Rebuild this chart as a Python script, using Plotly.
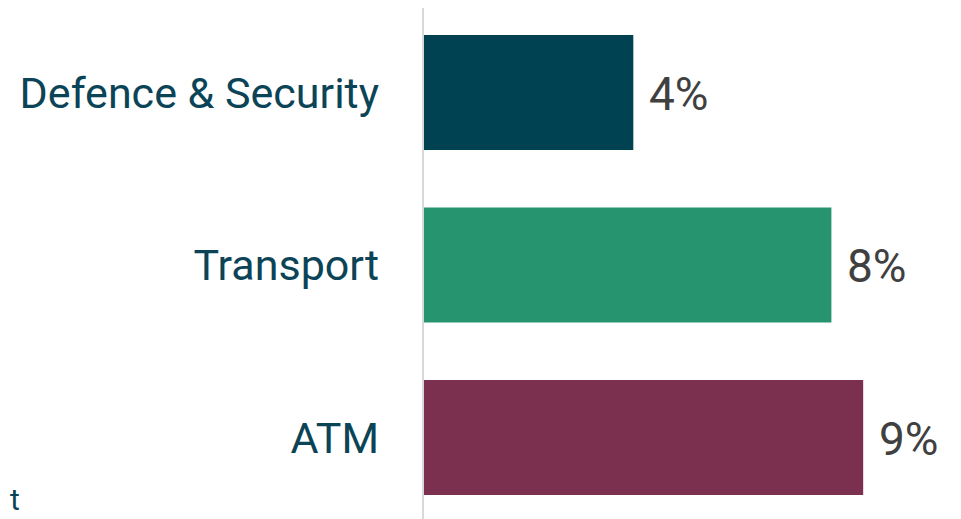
import plotly.graph_objects as go

categories = ["Defence & Security", "Transport", "ATM"]
values = [4.3, 8.35, 9.0]
value_labels = ["4%", "8%", "9%"]
bar_colors = ["#004152", "#26946E", "#7A304E"]

fig = go.Figure(go.Bar(
    x=values,
    y=categories,
    orientation="h",
    marker=dict(color=bar_colors, line=dict(width=0)),
    width=0.667,
))

# value labels sit a little away from the bar ends
for cat, val, lab in zip(categories, values, value_labels):
    fig.add_annotation(
        x=val, y=cat, text=lab, showarrow=False,
        xanchor="left", xshift=14, yshift=-1,
        font=dict(size=46, color="#404040", family="Roboto"),
    )

# the page puts the figure 8px in from the top-left corner
fig.update_layout(
    width=961,
    height=519,
    margin=dict(l=415, r=8, t=0, b=8),
    paper_bgcolor="white",
    plot_bgcolor="white",
    showlegend=False,
    font=dict(family="Roboto"),
    xaxis=dict(range=[0, 11.0], visible=False, fixedrange=True),
    yaxis=dict(
        categoryorder="array",
        categoryarray=categories,
        range=[2.472, -0.490],
        showgrid=False,
        zeroline=False,
        showline=False,
        ticks="",
        ticklabelstandoff=43,
        tickfont=dict(size=43, color="#0B4456", family="Roboto"),
    ),
    shapes=[dict(
        type="line", xref="paper", yref="paper",
        x0=0, x1=0, y0=0, y1=1,
        line=dict(color="#D9D9D9", width=2),
    )],
    annotations=list(fig.layout.annotations) + [dict(
        text="t", xref="paper", yref="paper",
        x=-415 / 538, y=0, xanchor="left", yanchor="bottom", yshift=0,
        showarrow=False,
        font=dict(size=30, color="#0B4456", family="Roboto"),
    )],
)

fig.write_html("out.html")
